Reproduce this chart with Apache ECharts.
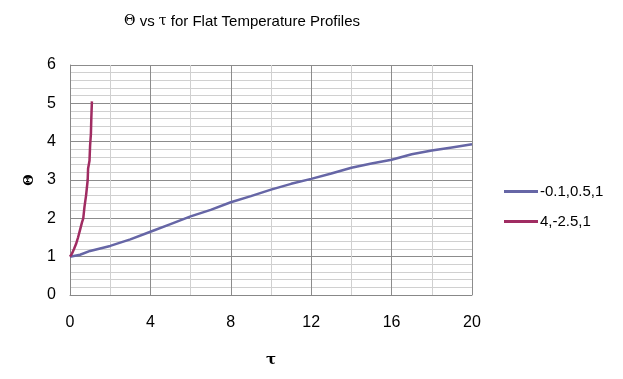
<!DOCTYPE html>
<html>
<head>
<meta charset="utf-8">
<script src="https://cdn.jsdelivr.net/npm/echarts@6/dist/echarts.min.js"></script>
<style>
  html, body { margin: 0; padding: 0; background: #fff; }
  #chart { width: 623px; height: 379px; }
</style>
</head>
<body>
<div id="chart"></div>
<script>
// series names as in the legend
const seriesNames = ["-0.1,0.5,1", "4,-2.5,1"];
// [tau, theta]
const flatA = [
  [0, 1], [0.5, 1.05], [1, 1.15], [2, 1.28], [3, 1.45], [4, 1.65], [5, 1.85],
  [6, 2.05], [7, 2.22], [8, 2.42], [9, 2.58], [10, 2.75], [11, 2.9], [12, 3.03],
  [13, 3.17], [14, 3.32], [15, 3.43], [16, 3.53], [17, 3.67], [18, 3.77],
  [19, 3.85], [20, 3.93]
];
const flatB = [
  [0, 1], [0.1, 1.08], [0.2, 1.2], [0.3, 1.33], [0.4, 1.5], [0.5, 1.7],
  [0.6, 1.9], [0.66, 2.0], [0.72, 2.3], [0.8, 2.6], [0.88, 3.0], [0.9, 3.3],
  [0.97, 3.5], [1.0, 3.9], [1.04, 4.2], [1.06, 4.6], [1.09, 5.05]
];
const xTicks = [0, 4, 8, 12, 16, 20];
const yTicks = [0, 1, 2, 3, 4, 5, 6];

const chart = echarts.init(document.getElementById("chart"));
const font = "Liberation Sans, Arial, sans-serif";

chart.setOption({
  animation: false,
  title: {
    text: "{g|Θ} vs {g|τ} for Flat Temperature Profiles",
    left: 237, top: 9, textAlign: "center",
    textStyle: {
      fontFamily: font, fontSize: 15, fontWeight: "normal", color: "#000",
      rich: { g: { fontFamily: "DejaVu Serif, serif", fontSize: 14, color: "#000" } }
    }
  },
  legend: {
    orient: "vertical",
    left: 499, top: 179,
    icon: "rect",
    itemWidth: 34, itemHeight: 3, itemGap: 15,
    textStyle: { fontFamily: font, fontSize: 15, color: "#000", padding: [0, 0, 0, -3] },
    data: seriesNames
  },
  grid: { left: 70, right: 151, top: 65, bottom: 84 },
  xAxis: {
    type: "value",
    min: xTicks[0], max: xTicks[xTicks.length - 1], interval: 4,
    name: "τ", nameLocation: "middle", nameGap: 58,
    nameTextStyle: { fontFamily: "DejaVu Serif, serif", fontSize: 15, fontWeight: "bold", color: "#000" },
    axisLine: { lineStyle: { color: "#888", width: 1 } },
    axisTick: { show: false },
    axisLabel: { fontFamily: font, fontSize: 16, color: "#000", margin: 20 },
    splitLine: { lineStyle: { color: "#8c8c8c", width: 1 } },
    minorTick: { show: false, splitNumber: 2 },
    minorSplitLine: { show: true, lineStyle: { color: "#d0d0d0", width: 1 } }
  },
  yAxis: {
    type: "value",
    min: yTicks[0], max: yTicks[yTicks.length - 1], interval: 1,
    name: "Θ", nameLocation: "middle", nameGap: 32, nameRotate: 90,
    nameTextStyle: { fontFamily: "DejaVu Serif, serif", fontSize: 13, fontWeight: "bold", color: "#000" },
    axisLine: { show: true, lineStyle: { color: "#888", width: 1 } },
    axisTick: { show: false },
    axisLabel: { fontFamily: font, fontSize: 16, color: "#000", margin: 14 },
    splitLine: { lineStyle: { color: "#8c8c8c", width: 1 } },
    minorTick: { show: false, splitNumber: 5 },
    minorSplitLine: { show: true, lineStyle: { color: "#d0d0d0", width: 1 } }
  },
  series: [
    {
      name: seriesNames[0], type: "line", symbol: "none",
      lineStyle: { color: "#6666a6", width: 2.5 }, itemStyle: { color: "#6666a6" },
      data: flatA
    },
    {
      name: seriesNames[1], type: "line", symbol: "none",
      lineStyle: { color: "#a02c62", width: 2.5 }, itemStyle: { color: "#a02c62" },
      data: flatB
    }
  ]
});
</script>
</body>
</html>
